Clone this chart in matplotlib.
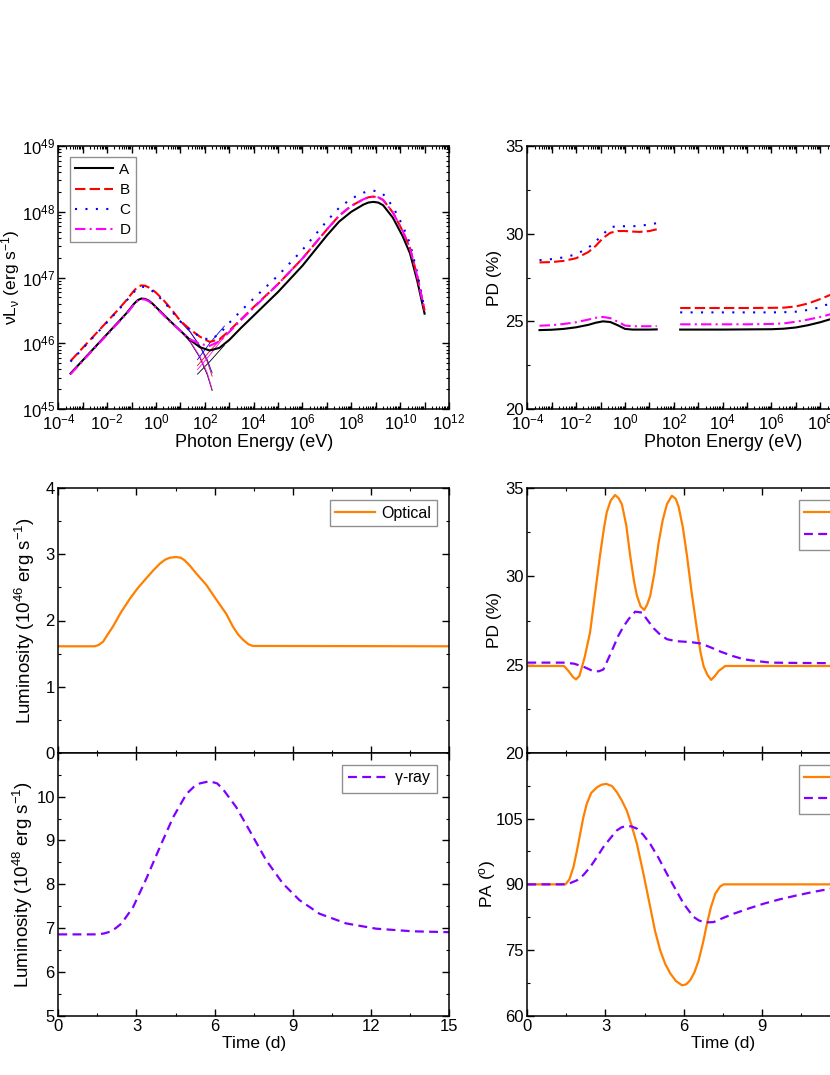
import matplotlib
matplotlib.use('Agg')
import matplotlib.pyplot as plt
import numpy as np
from matplotlib.ticker import FixedLocator, LogLocator, MultipleLocator, FuncFormatter, NullFormatter

plt.rcParams['font.family'] = ['Liberation Sans', 'DejaVu Sans']
plt.rcParams['mathtext.fontset'] = 'custom'
plt.rcParams['mathtext.rm'] = 'Liberation Sans'
plt.rcParams['mathtext.it'] = 'Liberation Sans:italic'
plt.rcParams['mathtext.bf'] = 'Liberation Sans:bold'
plt.rcParams['mathtext.sf'] = 'Liberation Sans'
plt.rcParams['mathtext.default'] = 'regular'
plt.rcParams.update({
	'xtick.direction': 'in', 'ytick.direction': 'in',
	'xtick.top': True, 'ytick.right': True,
	'xtick.major.size': 5, 'ytick.major.size': 5,
	'xtick.minor.size': 2.5, 'ytick.minor.size': 2.5,
	'xtick.major.width': 1, 'ytick.major.width': 1,
	'xtick.minor.width': 0.8, 'ytick.minor.width': 0.8,
	'axes.linewidth': 1.1,
	'font.size': 11.5,
	'legend.fontsize': 11.5,
})

# ---- SED (log10 photon energy in eV, log10 nuL_nu in erg/s) ----
sed_logE = [-3.5, -3.0, -2.5, -2.0, -1.5, -1.2, -0.9, -0.75, -0.6, -0.45, -0.3, -0.15, 0.0, 0.3, 0.6, 1.0, 1.4,
            1.8, 2.2, 2.6, 3.0, 3.5, 4.0, 5.0, 6.0, 6.5, 7.0, 7.5, 8.0, 8.5, 8.7, 8.9, 9.1, 9.3, 9.7, 10.1,
            10.4, 10.7, 11.0]
sed_A = [45.54, 45.74, 45.94, 46.14, 46.34, 46.46, 46.60, 46.655, 46.68, 46.675, 46.65, 46.605, 46.55, 46.44,
         46.33, 46.19, 46.05, 45.94, 45.89, 45.93, 46.05, 46.24, 46.42, 46.78, 47.18, 47.41, 47.64, 47.85, 48.00,
         48.11, 48.14, 48.15, 48.14, 48.10, 47.91, 47.63, 47.37, 46.95, 46.45]
sed_B = [45.73, 45.93, 46.13, 46.33, 46.53, 46.66, 46.80, 46.855, 46.88, 46.875, 46.85, 46.815, 46.77, 46.66,
         46.53, 46.34, 46.21, 46.10, 46.02, 46.06, 46.19, 46.37, 46.55, 46.90, 47.29, 47.51, 47.73, 47.94, 48.09,
         48.19, 48.22, 48.23, 48.22, 48.18, 47.99, 47.71, 47.45, 47.02, 46.50]
sed_C = [45.72, 45.92, 46.12, 46.32, 46.52, 46.65, 46.78, 46.835, 46.86, 46.855, 46.83, 46.795, 46.75, 46.64,
         46.51, 46.33, 46.20, 46.10, 46.05, 46.14, 46.31, 46.50, 46.68, 47.03, 47.42, 47.64, 47.86, 48.06, 48.20,
         48.29, 48.315, 48.32, 48.31, 48.27, 48.08, 47.79, 47.52, 47.07, 46.52]
sed_D = [45.53, 45.73, 45.93, 46.13, 46.33, 46.45, 46.59, 46.645, 46.67, 46.665, 46.64, 46.595, 46.54, 46.43,
         46.32, 46.19, 46.06, 45.99, 45.96, 46.03, 46.17, 46.36, 46.54, 46.90, 47.29, 47.51, 47.73, 47.94, 48.09,
         48.19, 48.22, 48.23, 48.22, 48.18, 47.99, 47.71, 47.45, 47.02, 46.50]

# thin component tails near the crossing
syn_logE = [1.0, 1.4, 1.8, 2.1, 2.3]
syn_A = [46.19, 46.02, 45.78, 45.52, 45.28]
syn_B = [46.34, 46.18, 45.95, 45.72, 45.50]
syn_C = [46.33, 46.17, 45.96, 45.75, 45.55]
syn_D = [46.19, 46.03, 45.80, 45.55, 45.30]
ic_logE = [1.7, 2.2, 2.8]
ic_A = [45.53, 45.72, 45.97]
ic_B = [45.66, 45.88, 46.12]
ic_C = [45.75, 46.00, 46.26]
ic_D = [45.60, 45.82, 46.10]

# ---- PD vs photon energy ----
pd_logE1 = [-3.5, -3.0, -2.5, -2.0, -1.5, -1.2, -0.9, -0.6, -0.3, 0.0, 0.3, 0.6, 1.0, 1.3]
pd1_A = [24.50, 24.52, 24.57, 24.66, 24.80, 24.92, 25.00, 24.96, 24.78, 24.57, 24.53, 24.53, 24.53, 24.54]
pd1_B = [28.36, 28.38, 28.45, 28.60, 28.95, 29.30, 29.75, 30.05, 30.15, 30.15, 30.12, 30.10, 30.15, 30.25]
pd1_C = [28.49, 28.55, 28.65, 28.82, 29.20, 29.55, 29.97, 30.35, 30.45, 30.42, 30.42, 30.45, 30.52, 30.60]
pd1_D = [24.75, 24.78, 24.85, 24.95, 25.10, 25.20, 25.25, 25.18, 24.98, 24.76, 24.72, 24.72, 24.72, 24.73]
pd_logE2 = [2.26, 3.0, 4.0, 5.0, 6.0, 6.5, 7.0, 7.5, 8.0, 8.6]
pd2_A = [24.53, 24.53, 24.53, 24.54, 24.55, 24.58, 24.65, 24.78, 24.95, 25.20]
pd2_B = [25.76, 25.76, 25.76, 25.76, 25.77, 25.78, 25.85, 26.02, 26.27, 26.62]
pd2_C = [25.51, 25.51, 25.51, 25.51, 25.51, 25.52, 25.55, 25.65, 25.80, 26.15]
pd2_D = [24.83, 24.83, 24.83, 24.83, 24.85, 24.88, 24.98, 25.10, 25.25, 25.47]

models = ['A', 'B', 'C', 'D']

# ---- light curves (time in days) ----
t_Lopt = [0, 1.4, 1.55, 1.72, 1.9, 2.1, 2.4, 2.75, 3.05, 3.38, 3.65, 3.9, 4.1, 4.28, 4.53, 4.7, 4.85,
          5.05, 5.3, 5.68, 6.13, 6.45, 6.7, 6.9, 7.09, 7.3, 7.47, 15]
L_opt = [1.61, 1.61, 1.63, 1.68, 1.79, 1.91, 2.12, 2.33, 2.49, 2.64, 2.76, 2.86, 2.92, 2.95, 2.96, 2.95, 2.91,
         2.83, 2.71, 2.54, 2.28, 2.10, 1.91, 1.79, 1.71, 1.64, 1.615, 1.61]
t_Lgam = [0, 1.47, 1.75, 1.98, 2.2, 2.43, 2.87, 3.38, 3.9, 4.41, 4.92, 5.2, 5.43, 5.81, 6.1, 6.32, 6.83,
          7.34, 7.98, 8.62, 9.26, 10.03, 11.05, 12.2, 13.6, 15]
L_gam = [6.86, 6.86, 6.88, 6.92, 7.00, 7.11, 7.48, 8.13, 8.85, 9.53, 10.06, 10.22, 10.30, 10.35, 10.30, 10.17, 9.76,
         9.23, 8.55, 8.02, 7.64, 7.33, 7.11, 6.99, 6.93, 6.91]

t_PDopt = [0, 1.41, 1.6, 1.75, 1.87, 2.0, 2.2, 2.41, 2.6, 2.79, 2.95, 3.05, 3.2, 3.37, 3.5, 3.63, 3.8, 3.95,
           4.1, 4.21, 4.35, 4.49, 4.6, 4.72, 4.88, 5.04, 5.2, 5.36, 5.55, 5.7, 5.81, 5.97, 6.13, 6.3, 6.51,
           6.65, 6.77, 6.92, 7.06, 7.2, 7.35, 7.6, 15]
PD_opt = [24.92, 24.92, 24.6, 24.3, 24.16, 24.35, 25.4, 26.83, 29.0, 31.18, 32.8, 33.64, 34.3, 34.62, 34.45, 34.1,
          32.9, 31.18, 29.7, 28.9, 28.3, 28.1, 28.4, 28.9, 30.2, 31.9, 33.2, 34.1, 34.58, 34.4, 33.95, 32.8, 31.18,
          29.2, 27.02, 25.7, 24.9, 24.4, 24.13, 24.35, 24.64, 24.92, 24.92]
t_PDgam = [0, 1.38, 1.8, 2.2, 2.54, 2.75, 2.92, 3.1, 3.31, 3.5, 3.69, 3.9, 4.14, 4.4, 4.6, 4.85, 5.1, 5.36,
           5.7, 6.0, 6.3, 6.64, 7.0, 7.41, 7.85, 8.31, 8.8, 9.33, 10.5, 11.64, 13.0, 15]
PD_gam = [25.11, 25.11, 25.05, 24.85, 24.62, 24.62, 24.72, 25.3, 26.0, 26.65, 27.15, 27.6, 28.0, 27.95, 27.55,
          27.06, 26.7, 26.44, 26.33, 26.3, 26.27, 26.2, 26.0, 25.74, 25.5, 25.3, 25.2, 25.11, 25.09, 25.08, 25.08, 25.08]

t_PAopt = [0, 1.47, 1.62, 1.77, 1.9, 2.03, 2.15, 2.28, 2.45, 2.67, 2.85, 3.03, 3.25, 3.44, 3.62, 3.82, 4.0,
           4.21, 4.46, 4.72, 4.9, 5.1, 5.3, 5.49, 5.7, 5.94, 6.1, 6.26, 6.42, 6.58, 6.75, 6.9, 7.05, 7.22, 7.4, 7.54, 15]
PA_opt = [90, 90, 91.2, 93.9, 97.5, 101.5, 105.2, 108.3, 110.8, 112.1, 112.7, 112.9, 112.4, 111.0, 109.2, 106.8,
          103.5, 99.2, 92.4, 84.8, 79.5, 75.0, 71.8, 69.7, 68.0, 67.0, 67.2, 68.2, 70.0, 72.7, 76.8, 81.1, 84.8,
          87.9, 89.5, 90, 90]
t_PAgam = [0, 1.38, 1.65, 1.9, 2.15, 2.41, 2.65, 2.92, 3.2, 3.44, 3.62, 3.82, 4.0, 4.21, 4.45, 4.72, 5.05,
           5.36, 5.7, 6.0, 6.2, 6.38, 6.58, 6.77, 6.95, 7.15, 7.5, 7.92, 8.5, 9.08, 9.7, 10.36, 11.0, 11.64, 12.5]
PA_gam = [90, 90, 90.3, 90.9, 92.1, 93.9, 96.0, 98.5, 100.6, 102.3, 103.0, 103.3, 103.2, 102.7, 101.3, 99.2,
          95.9, 92.4, 88.8, 85.6, 84.0, 82.6, 81.8, 81.4, 81.35, 81.4, 82.3, 83.3, 84.5, 85.6, 86.6, 87.5, 88.3,
          89.0, 89.4]

# styles
styles = {
	'A': dict(color='black', ls='-'),
	'B': dict(color='#ff0000', ls=(0, (5, 2))),
	'C': dict(color='#0000ff', ls=(0, (1, 4))),
	'D': dict(color='#ff00ff', ls=(0, (5, 2, 1, 2))),
}
c_opt = '#ff8000'
c_gam = '#8000ff'
gam_ls = (0, (4, 2.4))

W, H = 830, 1075
fig = plt.figure(figsize=(W / 100, H / 100), dpi=100)


def box(x0, y0, x1, y1):
	return [x0 / W, 1 - y1 / H, (x1 - x0) / W, (y1 - y0) / H]


ax_sed = fig.add_axes(box(58.3, 146, 449, 409))
ax_pde = fig.add_axes(box(527.3, 146, 918, 409))
ax_lo = fig.add_axes(box(58.3, 488.3, 449, 752.7))
ax_lg = fig.add_axes(box(58.3, 752.7, 449, 1016))
ax_pd = fig.add_axes(box(527.3, 488.3, 918, 752.7))
ax_pa = fig.add_axes(box(527.3, 752.7, 918, 1016))

leg_kw = dict(fancybox=False, edgecolor='#909090', framealpha=1, borderaxespad=0.75,
              handlelength=2.5, borderpad=0.35, labelspacing=0.4, handletextpad=0.4)


def even_pow(v, pos):
	e = int(round(np.log10(v)))
	return r'$10^{%d}$' % e if e % 2 == 0 else ''


def dec_pow(v, pos):
	return r'$10^{%d}$' % int(round(np.log10(v)))


# --- SED panel ---
sed_vals = {'A': sed_A, 'B': sed_B, 'C': sed_C, 'D': sed_D}
syn_vals = {'A': syn_A, 'B': syn_B, 'C': syn_C, 'D': syn_D}
ic_vals = {'A': ic_A, 'B': ic_B, 'C': ic_C, 'D': ic_D}
E = 10.0 ** np.array(sed_logE)
for m in models:
	ax_sed.plot(10.0 ** np.array(syn_logE), 10.0 ** np.array(syn_vals[m]), color=styles[m]['color'], lw=0.6)
	ax_sed.plot(10.0 ** np.array(ic_logE), 10.0 ** np.array(ic_vals[m]), color=styles[m]['color'], lw=0.6)
for m in models:
	ax_sed.plot(E, 10.0 ** np.array(sed_vals[m]), lw=1.5, label=m, **styles[m])
ax_sed.set_xscale('log')
ax_sed.set_yscale('log')
ax_sed.set_xlim(1e-4, 1e12)
ax_sed.set_ylim(1e45, 1e49)
ax_sed.xaxis.set_major_locator(FixedLocator([10.0 ** k for k in range(-4, 13)]))
ax_sed.xaxis.set_major_formatter(FuncFormatter(even_pow))
ax_sed.xaxis.set_minor_locator(LogLocator(base=10, subs=np.arange(2, 10), numticks=200))
ax_sed.xaxis.set_minor_formatter(NullFormatter())
ax_sed.yaxis.set_major_locator(FixedLocator([10.0 ** k for k in range(45, 50)]))
ax_sed.yaxis.set_major_formatter(FuncFormatter(dec_pow))
ax_sed.yaxis.set_minor_locator(LogLocator(base=10, subs=np.arange(2, 10), numticks=200))
ax_sed.yaxis.set_minor_formatter(NullFormatter())
ax_sed.set_xlabel('Photon Energy (eV)', fontsize=13, labelpad=1)
ax_sed.set_ylabel(r'$\nu L_{\nu}$ (erg s$^{-1}$)', fontsize=12.5)
ax_sed.yaxis.set_label_coords(-0.093, 0.5)
ax_sed.legend(loc='upper left', fontsize=11, **leg_kw)

# --- PD vs energy panel ---
pd1 = {'A': pd1_A, 'B': pd1_B, 'C': pd1_C, 'D': pd1_D}
pd2 = {'A': pd2_A, 'B': pd2_B, 'C': pd2_C, 'D': pd2_D}
for m in models:
	ax_pde.plot(10.0 ** np.array(pd_logE1), pd1[m], lw=1.5, **styles[m])
	ax_pde.plot(10.0 ** np.array(pd_logE2), pd2[m], lw=1.5, **styles[m])
ax_pde.set_xscale('log')
ax_pde.set_xlim(1e-4, 1e12)
ax_pde.set_ylim(20, 35)
ax_pde.xaxis.set_major_locator(FixedLocator([10.0 ** k for k in range(-4, 13)]))
ax_pde.xaxis.set_major_formatter(FuncFormatter(even_pow))
ax_pde.xaxis.set_minor_locator(LogLocator(base=10, subs=np.arange(2, 10), numticks=200))
ax_pde.xaxis.set_minor_formatter(NullFormatter())
ax_pde.yaxis.set_major_locator(MultipleLocator(5))
ax_pde.yaxis.set_minor_locator(MultipleLocator(2.5))
ax_pde.set_xlabel('Photon Energy (eV)', fontsize=13, labelpad=1)
ax_pde.set_ylabel('PD (%)', fontsize=12.5)
ax_pde.yaxis.set_label_coords(-0.065, 0.5)

# --- light curves ---
ax_lo.plot(t_Lopt, L_opt, color=c_opt, lw=1.6, label='Optical')
ax_lo.set_ylim(0, 4)
ax_lo.set_ylabel(r'Luminosity (10$^{46}$ erg s$^{-1}$)', fontsize=13.5)
ax_lo.yaxis.set_label_coords(-0.055, 0.5)
ax_lo.yaxis.set_major_locator(MultipleLocator(1))
ax_lo.yaxis.set_minor_locator(MultipleLocator(0.5))
ax_lo.legend(loc='upper right', **leg_kw)

ax_lg.plot(t_Lgam, L_gam, color=c_gam, lw=1.6, ls=gam_ls, label=r'$\gamma$-ray')
ax_lg.set_ylim(5, 11)
ax_lg.yaxis.set_major_locator(FixedLocator([5, 6, 7, 8, 9, 10]))
ax_lg.yaxis.set_minor_locator(MultipleLocator(0.5))
ax_lg.set_ylabel(r'Luminosity (10$^{48}$ erg s$^{-1}$)', fontsize=13.5)
ax_lg.yaxis.set_label_coords(-0.06, 0.5)
ax_lg.set_xlabel('Time (d)', fontsize=12.5, labelpad=1)
ax_lg.legend(loc='upper right', **leg_kw)

ax_pd.plot(t_PDopt, PD_opt, color=c_opt, lw=1.6, label='Optical')
ax_pd.plot(t_PDgam, PD_gam, color=c_gam, lw=1.6, ls=gam_ls, label=r'$\gamma$-ray')
ax_pd.set_ylim(20, 35)
ax_pd.yaxis.set_major_locator(MultipleLocator(5))
ax_pd.yaxis.set_minor_locator(MultipleLocator(2.5))
ax_pd.set_ylabel('PD (%)', fontsize=12.5)
ax_pd.yaxis.set_label_coords(-0.065, 0.5)
ax_pd.legend(loc='upper right', **leg_kw)

ax_pa.plot(t_PAopt, PA_opt, color=c_opt, lw=1.6, label='Optical')
ax_pa.plot(t_PAgam, PA_gam, color=c_gam, lw=1.6, ls=gam_ls, label=r'$\gamma$-ray')
ax_pa.set_ylim(60, 120)
ax_pa.yaxis.set_major_locator(FixedLocator([60, 75, 90, 105]))
ax_pa.yaxis.set_minor_locator(MultipleLocator(7.5))
ax_pa.set_ylabel(r'PA ($^{o}$)', fontsize=12.5)
ax_pa.yaxis.set_label_coords(-0.075, 0.5)
ax_pa.set_xlabel('Time (d)', fontsize=12.5, labelpad=1)
ax_pa.legend(loc='upper right', **leg_kw)

for ax in (ax_lo, ax_lg, ax_pd, ax_pa):
	ax.set_xlim(0, 15)
	ax.xaxis.set_major_locator(MultipleLocator(3))
	ax.xaxis.set_minor_locator(MultipleLocator(1.5))
for ax in (ax_lo, ax_pd):
	ax.tick_params(labelbottom=False)

for ax in fig.axes:
	ax.tick_params(which='both', labelsize=12, pad=2.5)

fig.savefig('out.png', dpi=100, facecolor='white')
plt.close(fig)
